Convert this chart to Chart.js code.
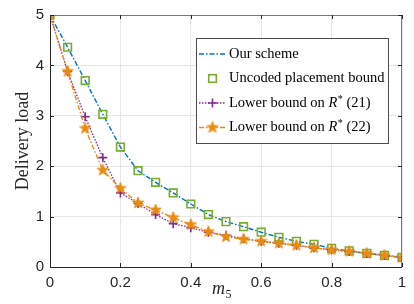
<!DOCTYPE html>
<html>
<head>
<meta charset="utf-8">
<script src="https://cdn.jsdelivr.net/npm/chart.js@4.4.1/dist/chart.umd.min.js"></script>
<style>
html, body { margin: 0; padding: 0; background: #fff; }
#grafico { display: block; }
</style>
</head>
<body>
<canvas id="grafico" width="414" height="304"></canvas>
<script>
// m5 values on the x axis
const mValues = [0, 0.05, 0.1, 0.15, 0.2, 0.25, 0.3, 0.35, 0.4, 0.45, 0.5,
    0.55, 0.6, 0.65, 0.7, 0.75, 0.8, 0.85, 0.9, 0.95, 1];

const ourScheme = [5, 4.36, 3.70, 3.03, 2.38, 1.91, 1.68, 1.47, 1.25, 1.04, 0.90,
    0.80, 0.69, 0.59, 0.51, 0.45, 0.37, 0.32, 0.27, 0.23, 0.19];
const uncodedBound = [5, 4.36, 3.70, 3.03, 2.38, 1.91, 1.68, 1.47, 1.25, 1.04, 0.90,
    0.80, 0.69, 0.59, 0.51, 0.45, 0.37, 0.32, 0.27, 0.23, 0.19];
const lowerBound21 = [5, 3.88, 2.98, 2.17, 1.47, 1.26, 1.04, 0.86, 0.78, 0.69, 0.63,
    0.56, 0.51, 0.47, 0.43, 0.38, 0.34, 0.31, 0.27, 0.23, 0.19];
const lowerBound22 = [5, 3.88, 2.75, 1.92, 1.56, 1.27, 1.13, 0.98, 0.84, 0.70, 0.60,
    0.55, 0.51, 0.47, 0.43, 0.38, 0.34, 0.31, 0.27, 0.23, 0.19];

const xTicks = [0, 0.2, 0.4, 0.6, 0.8, 1];
const yTicks = [0, 1, 2, 3, 4, 5];

const azul = '#0072BD';
const verde = '#77AC30';
const roxo = '#7E2F8E';
const laranja = '#EA8A10';

function pontos(valores) {
    return mValues.map((x, i) => ({ x: x, y: valores[i] }));
}

function fazEstrela(cor, raio) {
    const c = document.createElement('canvas');
    const lado = Math.ceil(raio * 2 + 2);
    c.width = lado;
    c.height = lado;
    const g = c.getContext('2d');
    const cx = lado / 2, cy = lado / 2;
    g.beginPath();
    for (let i = 0; i < 10; i++) {
        const r = i % 2 === 0 ? raio : raio * 0.42;
        const a = -Math.PI / 2 + i * Math.PI / 5;
        const px = cx + r * Math.cos(a);
        const py = cy + r * Math.sin(a);
        if (i === 0) g.moveTo(px, py); else g.lineTo(px, py);
    }
    g.closePath();
    g.fillStyle = cor;
    g.fill();
    g.strokeStyle = cor;
    g.lineWidth = 0.8;
    g.stroke();
    return c;
}

const estrela = fazEstrela(laranja, 6);

const molduraPlugin = {
    id: 'moldura',
    afterDraw(chart) {
        const ctx = chart.ctx;
        const area = chart.chartArea;
        const sx = chart.scales.x;
        const sy = chart.scales.y;
        ctx.save();

        // box and inward ticks
        ctx.lineWidth = 1;
        ctx.strokeStyle = '#262626';
        ctx.beginPath();
        ctx.moveTo(area.left + 0.5, area.top);
        ctx.lineTo(area.left + 0.5, area.bottom + 0.5);
        ctx.lineTo(area.right, area.bottom + 0.5);
        ctx.stroke();
        ctx.strokeStyle = '#7a7a7a';
        ctx.beginPath();
        ctx.moveTo(area.left, area.top + 0.5);
        ctx.lineTo(area.right - 0.5, area.top + 0.5);
        ctx.lineTo(area.right - 0.5, area.bottom);
        ctx.stroke();

        ctx.strokeStyle = '#262626';
        ctx.beginPath();
        xTicks.forEach(v => {
            const px = Math.round(sx.getPixelForValue(v)) + 0.5;
            ctx.moveTo(px, area.bottom);
            ctx.lineTo(px, area.bottom - 4);
            ctx.moveTo(px, area.top);
            ctx.lineTo(px, area.top + 4);
        });
        yTicks.forEach(v => {
            const py = Math.round(sy.getPixelForValue(v)) + 0.5;
            ctx.moveTo(area.left, py);
            ctx.lineTo(area.left + 4, py);
            ctx.moveTo(area.right, py);
            ctx.lineTo(area.right - 4, py);
        });
        ctx.stroke();

        // axis titles
        ctx.fillStyle = '#262626';
        ctx.save();
        ctx.translate(23, (area.top + area.bottom) / 2);
        ctx.rotate(-Math.PI / 2);
        ctx.textAlign = 'center';
        ctx.textBaseline = 'middle';
        ctx.font = '18px "Liberation Serif"';
        ctx.fillText('Delivery load', 0, 0);
        ctx.restore();

        ctx.textAlign = 'left';
        ctx.textBaseline = 'alphabetic';
        ctx.font = 'italic 18px "Liberation Serif"';
        const wm = ctx.measureText('m').width;
        ctx.fillText('m', 212, 294);
        ctx.font = '12px "Liberation Serif"';
        ctx.fillText('5', 212 + wm + 0.5, 298);

        // legend
        const lx = 196, ly = 38, lw = 192, lh = 105;
        ctx.fillStyle = '#fff';
        ctx.fillRect(lx, ly, lw, lh);
        ctx.strokeStyle = '#4d4d4d';
        ctx.lineWidth = 1;
        ctx.strokeRect(lx + 0.5, ly + 0.5, lw, lh);

        const linhas = [54, 78.5, 103, 127.5];
        const x0 = 199, x1 = 226, xm = 212.5, xt = 229;

        // Our scheme
        ctx.strokeStyle = azul;
        ctx.lineWidth = 1.4;
        ctx.setLineDash([5, 2, 1.5, 2]);
        ctx.beginPath();
        ctx.moveTo(x0, linhas[0]);
        ctx.lineTo(x1, linhas[0]);
        ctx.stroke();

        // Uncoded placement bound
        ctx.setLineDash([]);
        ctx.strokeStyle = verde;
        ctx.lineWidth = 1.6;
        ctx.strokeRect(xm - 3.8, linhas[1] - 3.8, 7.6, 7.6);

        // Lower bound (21)
        ctx.strokeStyle = roxo;
        ctx.lineWidth = 1.3;
        ctx.setLineDash([1.5, 1.5]);
        ctx.beginPath();
        ctx.moveTo(x0, linhas[2]);
        ctx.lineTo(x1, linhas[2]);
        ctx.stroke();
        ctx.setLineDash([]);
        ctx.lineWidth = 1.6;
        ctx.beginPath();
        ctx.moveTo(xm - 4.5, linhas[2]);
        ctx.lineTo(xm + 4.5, linhas[2]);
        ctx.moveTo(xm, linhas[2] - 4.5);
        ctx.lineTo(xm, linhas[2] + 4.5);
        ctx.stroke();

        // Lower bound (22)
        ctx.strokeStyle = laranja;
        ctx.lineWidth = 1.4;
        ctx.setLineDash([5, 2, 1.5, 2]);
        ctx.beginPath();
        ctx.moveTo(x0, linhas[3]);
        ctx.lineTo(x1, linhas[3]);
        ctx.stroke();
        ctx.setLineDash([]);
        ctx.drawImage(estrela, xm - estrela.width / 2, linhas[3] - estrela.height / 2);

        ctx.fillStyle = '#000';
        ctx.textBaseline = 'middle';
        const fonteNormal = '14.5px "Liberation Serif"';
        ctx.font = fonteNormal;
        ctx.fillText('Our scheme', xt, linhas[0]);
        ctx.fillText('Uncoded placement bound', xt, linhas[1]);

        [['(21)', linhas[2]], ['(22)', linhas[3]]].forEach(([num, y]) => {
            let x = xt;
            ctx.font = fonteNormal;
            ctx.fillText('Lower bound on ', x, y);
            x += ctx.measureText('Lower bound on ').width;
            ctx.font = 'italic 14.5px "Liberation Serif"';
            ctx.fillText('R', x, y);
            x += ctx.measureText('R').width + 0.5;
            ctx.font = '10px "Liberation Serif"';
            ctx.fillText('*', x, y - 4);
            x += ctx.measureText('*').width;
            ctx.font = fonteNormal;
            ctx.fillText(' ' + num, x, y);
        });

        ctx.restore();
    }
};

const grafico = new Chart(document.getElementById('grafico'), {
    type: 'line',
    data: {
        datasets: [{
            label: 'Our scheme',
            data: pontos(ourScheme),
            borderColor: azul,
            borderWidth: 1.4,
            borderDash: [5, 2, 1.5, 2],
            pointRadius: 0,
            order: 4
        }, {
            label: 'Uncoded placement bound',
            data: pontos(uncodedBound),
            showLine: false,
            pointStyle: 'rect',
            pointRadius: 5.4,
            pointBorderWidth: 1.6,
            pointBorderColor: verde,
            pointBackgroundColor: 'rgba(0,0,0,0)',
            borderColor: verde,
            order: 3
        }, {
            label: 'Lower bound on R* (21)',
            data: pontos(lowerBound21),
            borderColor: roxo,
            borderWidth: 1.3,
            borderDash: [1.5, 1.5],
            pointStyle: 'cross',
            pointRadius: 4.5,
            pointBorderWidth: 1.6,
            pointBorderColor: roxo,
            order: 2
        }, {
            label: 'Lower bound on R* (22)',
            data: pontos(lowerBound22),
            borderColor: laranja,
            borderWidth: 1.4,
            borderDash: [5, 2, 1.5, 2],
            pointStyle: estrela,
            order: 1
        }]
    },
    options: {
        responsive: false,
        animation: false,
        events: [],
        layout: { padding: { top: 11, right: 12, left: 0, bottom: 0 } },
        plugins: {
            legend: { display: false },
            tooltip: { enabled: false }
        },
        scales: {
            x: {
                type: 'linear',
                min: 0,
                max: 1,
                afterFit: s => { s.height = 37; },
                afterBuildTicks: s => { s.ticks = xTicks.map(v => ({ value: v })); },
                ticks: {
                    callback: v => String(Math.round(v * 10) / 10),
                    font: { family: '"Liberation Sans"', size: 15 },
                    color: '#262626',
                    padding: 7,
                    maxRotation: 0
                },
                grid: { color: '#e6e6e6', drawTicks: false },
                border: { display: false }
            },
            y: {
                min: 0,
                max: 5,
                afterFit: s => { s.width = 50; },
                afterBuildTicks: s => { s.ticks = yTicks.map(v => ({ value: v })); },
                ticks: {
                    font: { family: '"Liberation Sans"', size: 15 },
                    color: '#262626',
                    padding: 6
                },
                grid: { color: '#e6e6e6', drawTicks: false },
                border: { display: false }
            }
        }
    },
    plugins: [molduraPlugin]
});
</script>
</body>
</html>
